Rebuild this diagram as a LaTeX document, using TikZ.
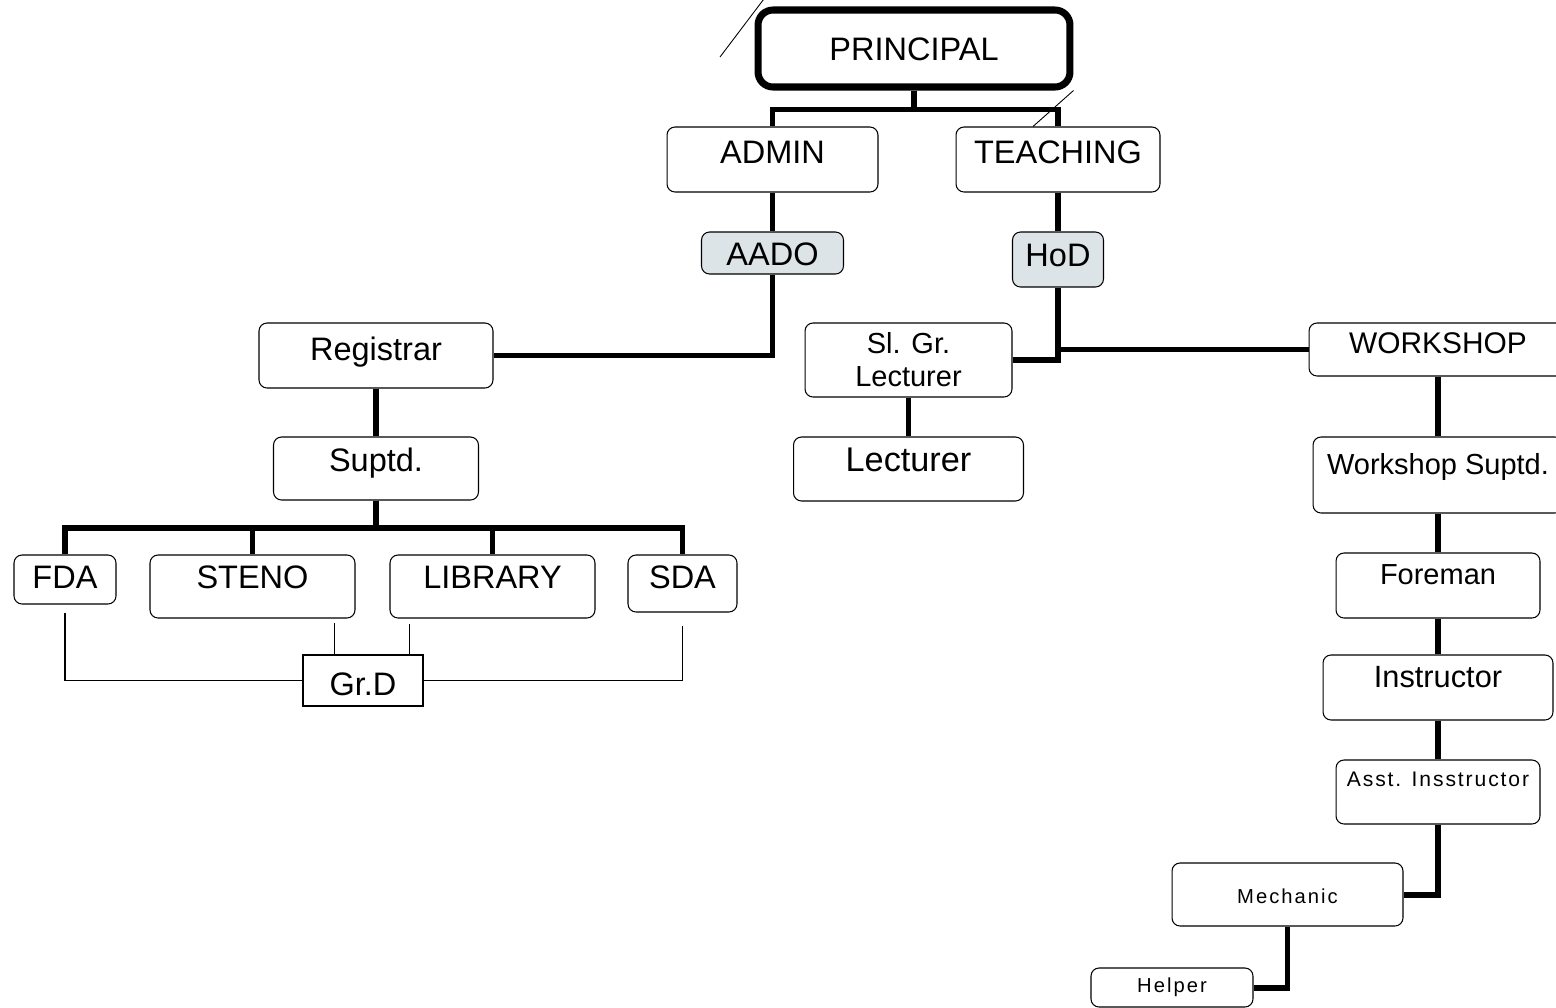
\documentclass[tikz,border=0pt]{standalone}
\usepackage{fontspec}
\setmainfont{Liberation Sans}
\definecolor{shade}{RGB}{221,228,232}

\begin{document}
\begin{tikzpicture}[x=0.02cm,y=-0.02cm]
\tikzstyle{post}=[draw,line width=0.6pt,rounded corners=0.16cm,fill=white,inner sep=0pt,anchor=base,font=\fontsize{18.5}{22}\selectfont];
\tikzstyle{head}=[post,line width=4pt,rounded corners=0.3cm];
\tikzstyle{tinted}=[post,fill=shade];
\tikzstyle{small}=[post,font=\fontsize{12}{14}\selectfont\addfontfeature{LetterSpace=9}];
\tikzstyle{link}=[line width=3.4pt];
\tikzstyle{thinlink}=[line width=0.6pt];
\clip (0,0) rectangle (1556,1008);

\node[head,minimum width=6.24cm,text height=1.0cm,text depth=0.54cm] (principal) at (914,60) {PRINCIPAL};
\node[post,minimum width=4.22cm,text height=0.72cm,text depth=0.58cm] (admin) at (772.5,163) {ADMIN};
\node[post,minimum width=4.08cm,text height=0.72cm,text depth=0.58cm] (teaching) at (1058,163) {TEACHING};
\node[tinted,minimum width=2.84cm,text height=0.66cm,text depth=0.18cm] (aado) at (772.5,265) {AADO};
\node[tinted,minimum width=1.82cm,text height=0.68cm,text depth=0.42cm] (hod) at (1058,266) {HoD};

% admin side
\node[post,minimum width=4.68cm,text height=0.74cm,text depth=0.56cm] (registrar) at (376,360) {Registrar};
\node[post,minimum width=4.10cm,text height=0.68cm,text depth=0.58cm] (suptd) at (376,471) {Suptd.};
\node[post,minimum width=2.04cm,text height=0.66cm,text depth=0.32cm] (fda) at (65,588) {FDA};
\node[post,minimum width=4.10cm,text height=0.66cm,text depth=0.60cm] (steno) at (252.5,588) {STENO};
\node[post,minimum width=4.10cm,text height=0.66cm,text depth=0.60cm] (library) at (492.5,588) {LIBRARY};
\node[post,minimum width=2.18cm,text height=0.66cm,text depth=0.48cm] (sda) at (682.5,588) {SDA};
\node[post,sharp corners,minimum width=2.40cm,text height=0.80cm,text depth=0.22cm] (grd) at (363,695) {Gr.D};

% teaching side
\node[post,anchor=center,align=center,minimum width=4.14cm,minimum height=1.48cm,font=\fontsize{16.5}{18.7}\selectfont] (slgr) at (908.5,360) {Sl. Gr.\\Lecturer};
\node[post,minimum width=4.60cm,text height=0.68cm,text depth=0.60cm,font=\fontsize{19.5}{23}\selectfont] (lecturer) at (908.5,471) {Lecturer};
\node[post,minimum width=5.16cm,text height=0.60cm,text depth=0.46cm,font=\fontsize{17}{20}\selectfont] (workshop) at (1438,353) {WORKSHOP};
\node[post,minimum width=5.00cm,text height=0.74cm,text depth=0.78cm,font=\fontsize{16.5}{20}\selectfont] (wsuptd) at (1438,474) {Workshop Suptd.};
\node[post,minimum width=4.08cm,text height=0.62cm,text depth=0.68cm,font=\fontsize{16.5}{20}\selectfont] (foreman) at (1438,584) {Foreman};
\node[post,minimum width=4.60cm,text height=0.64cm,text depth=0.66cm,font=\fontsize{17.5}{21}\selectfont] (instructor) at (1438,687) {Instructor};
\node[small,minimum width=4.08cm,text height=0.52cm,text depth=0.76cm] (asst) at (1438,786) {Asst. Insstructor};
\node[small,minimum width=4.62cm,text height=0.80cm,text depth=0.46cm,font=\fontsize{11.5}{14}\selectfont\addfontfeature{LetterSpace=10}] (mechanic) at (1287.5,903) {Mechanic};
\node[small,minimum width=3.24cm,text height=0.48cm,text depth=0.30cm,font=\fontsize{11.5}{14}\selectfont\addfontfeature{LetterSpace=10}] (helper) at (1172,992) {Helper};

% connectors
\draw[link] (principal.south) -- ++(0,19) -| (admin.north);
\draw[link] (principal.south) -- ++(0,19) -| (teaching.north);
\draw[link] (admin.south) -- (aado.north);
\draw[link] (teaching.south) -- (hod.north);
\draw[link] (aado.south) |- (registrar.east);
\draw[link] (registrar.south) -- (suptd.north);
\draw[link] (suptd.south) -- ++(0,27) -| (fda.north);
\draw[link] (suptd.south) -- ++(0,27) -| (steno.north);
\draw[link] (suptd.south) -- ++(0,27) -| (library.north);
\draw[link] (suptd.south) -- ++(0,27) -| (sda.north);
\draw[link] (hod.south) |- (slgr.east);
\draw[link] (hod.south |- workshop.west) -- (workshop.west);
\draw[link] (slgr.south) -- (lecturer.north);
\draw[link] (workshop.south) -- (wsuptd.north);
\draw[link] (wsuptd.south) -- (foreman.north);
\draw[link] (foreman.south) -- (instructor.north);
\draw[link] (instructor.south) -- (asst.north);
\draw[link] (asst.south) |- (mechanic.east);
\draw[link] (mechanic.south) |- (helper.east);

% Gr.D lines
\coordinate (gs) at ([xshift=0.64cm]grd.north west);
\coordinate (gl) at ([xshift=-0.28cm]grd.north east);
\draw[thinlink,shorten <=0.16cm] (fda.south) |- (grd.west);
\draw[thinlink,shorten <=0.26cm] (sda.south) |- (grd.east);
\draw[thinlink,shorten >=0.08cm] (gs) -- (gs |- steno.south);
\draw[thinlink,shorten >=0.1cm] (gl) -- (gl |- library.south);

% stray strokes
\coordinate (tick) at (720,57);
\draw[line width=0.5pt] (tick) -- ([xshift=0.18cm,yshift=0.14cm]principal.north west);
\draw[line width=0.5pt] (principal.south east) -- ([xshift=-0.5cm]teaching.north);
\end{tikzpicture}
\end{document}
